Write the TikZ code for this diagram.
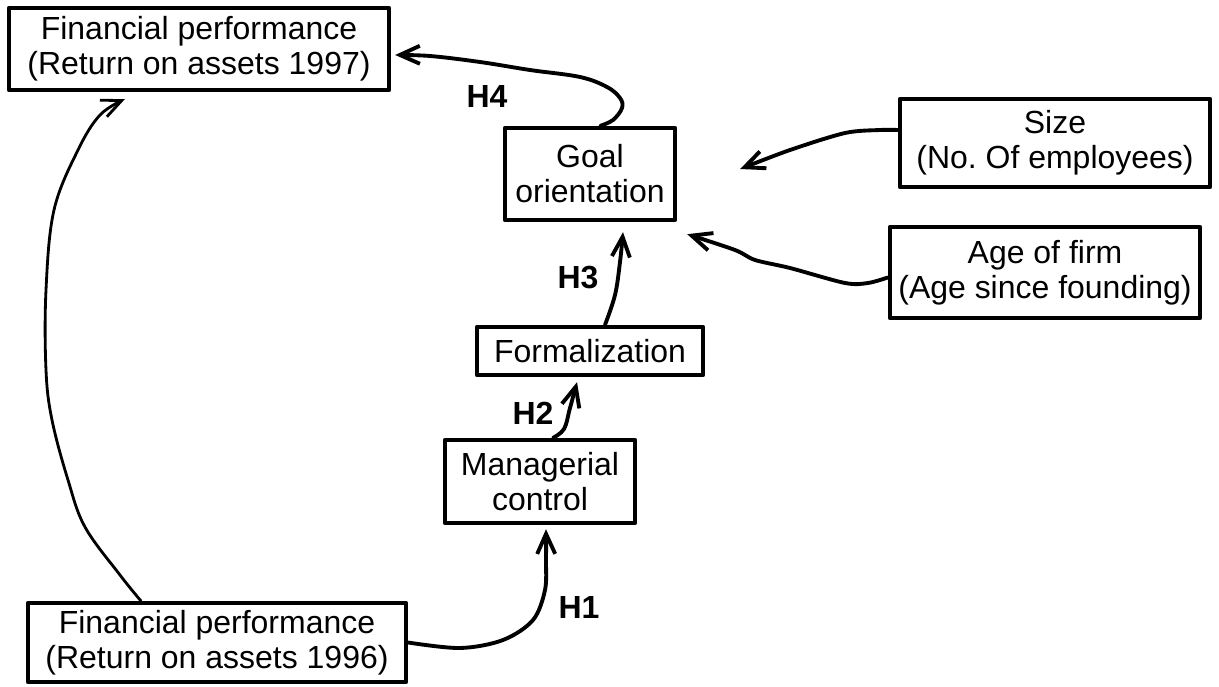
\documentclass[tikz,border=0pt]{standalone}
\usepackage{fontspec}
\setmainfont{Liberation Sans}
\usetikzlibrary{arrows.meta,calc}

\begin{document}
\begin{tikzpicture}[x=0.02cm,y=-0.02cm,line cap=round,line join=round,
    font=\fontsize{18.2}{19.9}\selectfont,
    box/.style={draw,line width=2.5pt,align=center,inner sep=0pt},
    link/.style={line width=2.2pt,-{Straight Barb[length=4mm,width=3.6mm]}},
    hyp/.style={font=\fontsize{18.2}{19.9}\selectfont\bfseries}]
\useasboundingbox (0,0) rectangle (1219,686);
% boxes
\node[box,minimum width=7.6cm,minimum height=1.64cm] (fp97) at (199,49)
    {Financial performance\\(Return on assets 1997)};
\node[box,minimum width=3.4cm,minimum height=1.84cm] (goal) at (590,174)
    {Goal\\orientation};
\node[box,minimum width=6.2cm,minimum height=1.76cm] (size) at (1055,143)
    {Size\\(No.\ Of employees)};
\node[box,minimum width=6.2cm,minimum height=1.82cm] (age) at (1045,272.5)
    {Age of firm\\(Age since founding)};
\node[box,minimum width=4.52cm,minimum height=0.96cm] (form) at (590,351)
    {Formalization};
\node[box,minimum width=3.8cm,minimum height=1.66cm] (mgr) at (540,481.5)
    {Managerial\\control};
\node[box,minimum width=7.56cm,minimum height=1.58cm] (fp96) at (217,642.5)
    {Financial performance\\(Return on assets 1996)};
% hypotheses
\node[hyp] (h1) at (579,607) {H1};
\node[hyp] (h2) at (533,413) {H2};
\node[hyp] (h3) at (578,278) {H3};
\node[hyp] (h4) at (487,97) {H4};
% connectors
\draw[link] plot[smooth,tension=0.55] coordinates
    {(fp96.east) (460,648) (503,640) (533,620) (545,590) (546,560) ($(mgr.south)+(6,4)$)};
\draw[link] plot[smooth,tension=0.6] coordinates
    {($(mgr.north)+(13,0)$) (564,429) (570,408) ($(form.south)+(-13,5)$)};
\draw[link] plot[smooth,tension=0.6] coordinates
    {($(form.north)+(15,0)$) (615,295) (620,262) ($(goal.south)+(33,10)$)};
\draw[link] plot[smooth,tension=0.6] coordinates
    {(goal.78) (613,120) (622,108) (620,98) (607,87) (580,77) (530,70) (480,62) (430,56) ($(fp97.east)+(4,6)$)};
\draw[link] plot[smooth,tension=0.5] coordinates
    {($(size.west)+(0,-13)$) (880,130) (845,133) (790,150) ($(goal.east)+(63,-5)$)};
\draw[link] plot[smooth,tension=0.5] coordinates
    {($(age.west)+(0,5)$) (868,283) (845,283) (790,268) (755,260) (735,250) ($(goal.south east)+(10,12)$)};
\draw[link,line width=1.6pt] plot[smooth,tension=0.6] coordinates
    {($(fp96.north west)+(115,0)$) (120,575) (85,527) (68,480) (52,420) (46,370) (46,290) (54,210) (78,150) (100,115) ($(fp97.south west)+(118,7)$)};
\end{tikzpicture}
\end{document}
